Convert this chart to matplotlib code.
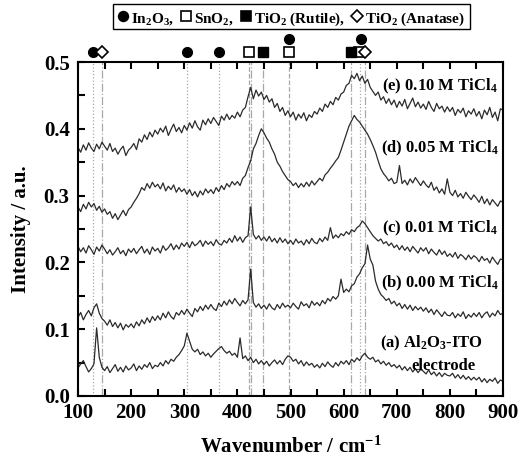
import numpy as np
import matplotlib
matplotlib.use("Agg")
import matplotlib.pyplot as plt
from matplotlib.ticker import MultipleLocator, FormatStrFormatter
from matplotlib.lines import Line2D
from matplotlib.patches import Rectangle

plt.rcParams['font.family'] = ['Liberation Serif', 'DejaVu Serif']
plt.rcParams['font.weight'] = 'bold'
plt.rcParams['mathtext.fontset'] = 'custom'
plt.rcParams['mathtext.rm'] = 'Liberation Serif:bold'
plt.rcParams['mathtext.bf'] = 'Liberation Serif:bold'
plt.rcParams['mathtext.it'] = 'Liberation Serif:italic:bold'
plt.rcParams['mathtext.default'] = 'bf'

# wavenumber grid (cm^-1), every 5 cm^-1
wavenumber = np.arange(100, 901, 5)

spec_e = [
    .372, .365, .376, .368, .379, .371, .366, .377, .370, .380,
    .374, .368, .378, .366, .371, .362, .369, .374, .360, .368,
    .372, .378, .369, .385, .380, .391, .384, .395, .388, .398,
    .392, .401, .395, .404, .390, .399, .407, .396, .402, .394,
    .405, .398, .409, .401, .412, .403, .398, .413, .406, .415,
    .408, .417, .411, .405, .419, .413, .422, .414, .420, .416,
    .425, .418, .428, .432, .448, .462, .445, .458, .449, .455,
    .444, .450, .440, .445, .432, .438, .426, .432, .420, .427,
    .418, .425, .413, .422, .416, .424, .412, .421, .417, .426,
    .422, .431, .426, .437, .432, .441, .436, .447, .443, .452,
    .455, .465, .468, .480, .475, .483, .472, .479, .468, .474,
    .462, .456, .450, .455, .443, .448, .438, .445, .436, .443,
    .432, .441, .434, .444, .430, .438, .446, .433, .440, .431,
    .437, .429, .441, .432, .426, .438, .430, .434, .425, .433,
    .426, .432, .420, .429, .424, .431, .418, .427, .422, .430,
    .419, .426, .415, .428, .421, .432, .417, .425, .412, .430,
    .428]

spec_d = [
    .283, .276, .287, .280, .290, .283, .288, .278, .284, .275,
    .280, .272, .276, .266, .273, .264, .271, .278, .270, .279,
    .283, .290, .296, .303, .312, .308, .318, .311, .320, .313,
    .317, .310, .319, .307, .314, .309, .316, .305, .312, .306,
    .310, .302, .309, .300, .306, .298, .307, .301, .310, .304,
    .309, .303, .312, .306, .315, .309, .318, .313, .321, .316,
    .321, .315, .326, .330, .342, .352, .370, .378, .390, .400,
    .394, .386, .380, .370, .362, .350, .344, .336, .330, .324,
    .321, .315, .319, .312, .318, .313, .320, .314, .322, .316,
    .321, .326, .322, .331, .335, .341, .346, .352, .357, .368,
    .380, .392, .404, .412, .420, .414, .410, .404, .398, .392,
    .384, .375, .365, .352, .340, .333, .328, .322, .326, .318,
    .320, .345, .318, .323, .316, .325, .319, .327, .321, .315,
    .322, .316, .312, .320, .308, .313, .304, .310, .302, .325,
    .305, .300, .308, .298, .303, .296, .305, .299, .294, .301,
    .296, .290, .299, .288, .295, .286, .294, .289, .284, .292,
    .290]

spec_c = [
    .224, .216, .222, .214, .225, .219, .212, .223, .217, .226,
    .220, .213, .219, .211, .216, .222, .213, .218, .210, .220,
    .215, .221, .213, .219, .224, .214, .220, .212, .223, .217,
    .221, .214, .225, .218, .222, .228, .219, .226, .220, .229,
    .224, .230, .222, .231, .225, .228, .233, .224, .232, .227,
    .231, .225, .234, .228, .226, .233, .229, .236, .230, .240,
    .232, .238, .230, .237, .240, .283, .242, .235, .240, .233,
    .238, .232, .239, .231, .236, .229, .237, .230, .235, .228,
    .233, .227, .235, .229, .232, .226, .234, .228, .236, .230,
    .228, .236, .231, .238, .233, .252, .236, .241, .237, .243,
    .240, .246, .242, .249, .246, .252, .255, .262, .258, .252,
    .246, .240, .236, .232, .235, .228, .231, .225, .229, .222,
    .226, .219, .225, .218, .223, .216, .224, .219, .214, .222,
    .217, .222, .213, .220, .215, .211, .219, .212, .217, .209,
    .213, .208, .215, .206, .212, .209, .204, .211, .205, .210,
    .207, .201, .209, .203, .206, .199, .208, .202, .197, .205,
    .204]

spec_b = [
    .118, .125, .114, .122, .128, .120, .132, .138, .124, .116,
    .112, .106, .114, .104, .110, .102, .109, .099, .107, .103,
    .108, .102, .111, .105, .114, .108, .117, .110, .119, .113,
    .120, .114, .124, .117, .126, .119, .115, .125, .121, .128,
    .122, .130, .124, .119, .131, .126, .134, .128, .136, .130,
    .137, .131, .128, .139, .134, .142, .136, .144, .138, .146,
    .140, .135, .143, .138, .144, .190, .140, .133, .138, .131,
    .136, .130, .138, .132, .129, .137, .131, .139, .133, .136,
    .132, .139, .134, .130, .141, .135, .138, .132, .142, .136,
    .140, .135, .143, .138, .146, .142, .149, .145, .150, .175,
    .155, .160, .156, .165, .168, .178, .183, .192, .198, .226,
    .205, .196, .172, .160, .152, .148, .143, .146, .138, .142,
    .135, .139, .131, .137, .130, .136, .128, .134, .129, .133,
    .127, .132, .125, .130, .122, .129, .124, .119, .126, .121,
    .120, .125, .117, .123, .119, .126, .116, .122, .118, .124,
    .119, .125, .117, .123, .126, .118, .124, .120, .128, .122,
    .124]

spec_a = [
    .042, .048, .053, .044, .036, .041, .048, .102, .058, .043,
    .038, .044, .035, .041, .047, .037, .043, .036, .045, .039,
    .042, .048, .038, .045, .040, .047, .043, .050, .041, .046,
    .044, .050, .045, .053, .048, .055, .052, .058, .062, .068,
    .075, .094, .082, .070, .066, .070, .062, .066, .060, .064,
    .058, .063, .067, .071, .074, .068, .064, .067, .061, .064,
    .058, .087, .056, .060, .053, .058, .050, .055, .048, .053,
    .047, .052, .045, .050, .054, .048, .053, .047, .055, .060,
    .058, .052, .055, .048, .053, .045, .051, .046, .049, .043,
    .047, .042, .049, .044, .051, .046, .043, .050, .045, .052,
    .048, .053, .047, .055, .051, .057, .053, .060, .064, .058,
    .055, .058, .051, .054, .048, .052, .046, .050, .044, .047,
    .042, .046, .039, .044, .038, .043, .036, .041, .035, .040,
    .037, .033, .039, .032, .036, .030, .035, .029, .034, .031,
    .030, .034, .027, .032, .026, .031, .025, .029, .024, .028,
    .024, .028, .021, .026, .020, .025, .022, .027, .019, .024,
    .022]

series = [spec_a, spec_b, spec_c, spec_d, spec_e]

# reference lines (position, style)
ref_lines = [(129, ':'), (145, '-.'), (305, ':'), (366, ':'), (421, '--'),
             (426, '-.'), (448, '-.'), (497, '--'), (613, '-.'), (630, ':'),
             (641, '-.')]

# top phase markers: (position, row)
markers_in2o3 = [(129, 1), (305, 1), (366, 1), (497, 2), (632, 2)]
markers_sno2 = [(421, 1), (497, 1), (628, 1)]
markers_rutile = [(448, 1), (614, 1)]
markers_anatase = [(146, 1), (641, 1)]

labels = ['(a) Al$_2$O$_3$-ITO', '(b) 0.00 M TiCl$_4$', '(c) 0.01 M TiCl$_4$',
          '(d) 0.05 M TiCl$_4$', '(e) 0.10 M TiCl$_4$']
label_y = [0.079, 0.169, 0.251, 0.371, 0.464]

legend_items = [('o', 'black'), 'In$_2$O$_3$,', ('s', 'white'), 'SnO$_2$,',
                ('s', 'black'), 'TiO$_2$ (Rutile),', ('D', 'white'), 'TiO$_2$ (Anatase)']

W, H = 524, 461
fig = plt.figure(figsize=(W / 100, H / 100), dpi=100)
ax = fig.add_axes([0.1489, 0.141, 0.8111, 0.7245])

for xv, ls in ref_lines:
    ax.axvline(xv, color='#a8a8a8', lw=0.9, ls=ls, zorder=1)

for s in series:
    ax.plot(wavenumber, s, color='#2b2b2b', lw=0.9, zorder=2)

row_y = {1: 0.515, 2: 0.535}
ms = 7
for xv, r in markers_in2o3:
    ax.plot([xv], [row_y[r]], 'o', ms=ms, mfc='black', mec='black', clip_on=False, zorder=5)
for xv, r in markers_sno2:
    ax.plot([xv], [row_y[r]], 's', ms=ms, mfc='white', mec='black', mew=1.2, clip_on=False, zorder=4)
for xv, r in markers_rutile:
    ax.plot([xv], [row_y[r]], 's', ms=ms, mfc='black', mec='black', clip_on=False, zorder=4)
for xv, r in markers_anatase:
    ax.plot([xv], [row_y[r]], 'D', ms=6, mfc='white', mec='black', mew=1.2, clip_on=False, zorder=6)

lfs = 12
for i, (lab, yv) in enumerate(zip(labels, label_y)):
    if i == 0:
        ax.text(863, yv, lab, ha='right', va='center', fontsize=lfs, fontweight='bold')
        ax.text(788, 0.045, 'electrode', ha='center', va='center', fontsize=lfs, fontweight='bold')
    else:
        ax.text(891, yv, lab, ha='right', va='center', fontsize=lfs, fontweight='bold')

ax.set_xlim(100, 900)
ax.set_ylim(0.0, 0.5)
ax.xaxis.set_major_locator(MultipleLocator(100))
ax.xaxis.set_minor_locator(MultipleLocator(50))
ax.yaxis.set_major_locator(MultipleLocator(0.1))
ax.yaxis.set_minor_locator(MultipleLocator(0.05))
ax.yaxis.set_major_formatter(FormatStrFormatter('%.1f'))
ax.tick_params(which='both', direction='in', top=True, right=False, length=5, width=1.5)
ax.tick_params(axis='x', labelsize=15, pad=5)
ax.tick_params(axis='y', labelsize=15, pad=6)
for lab in ax.get_xticklabels() + ax.get_yticklabels():
    lab.set_fontweight('bold')
for sp in ax.spines.values():
    sp.set_linewidth(1.5)

ax.set_xlabel('Wavenumber / cm$^{-1}$', fontsize=15, fontweight='bold', labelpad=10)
ax.set_ylabel('Intensity / a.u.', fontsize=15, fontweight='bold', labelpad=9)

# legend box at top, laid out piece by piece
renderer = fig.canvas.get_renderer()
gfs = 11
msz_px = 10
gap_after_marker = 3
gap_after_text = 7
widths = []
for it in legend_items:
    if isinstance(it, tuple):
        widths.append(msz_px)
    else:
        t = fig.text(0, 0, it, fontsize=gfs, fontweight='bold')
        widths.append(t.get_window_extent(renderer).width)
        t.remove()
gaps = [gap_after_marker if isinstance(it, tuple) else gap_after_text for it in legend_items[:-1]]
total = sum(widths) + sum(gaps)
cx, cy = 291.5, H - 16.5
x = cx - total / 2
for i, (it, w) in enumerate(zip(legend_items, widths)):
    if isinstance(it, tuple):
        mk, fc = it
        fig.add_artist(Line2D([(x + w / 2) / W], [cy / H], marker=mk, ms=7 if mk != 'D' else 6.5,
                              mfc=fc, mec='black', mew=1.2, ls='none', transform=fig.transFigure))
    else:
        fig.text(x / W, cy / H, it, fontsize=gfs, fontweight='bold', ha='left', va='center_baseline')
    if i < len(gaps):
        x += w + gaps[i]
pad = 5
fig.add_artist(Rectangle(((cx - total / 2 - pad) / W, (cy - 12.5) / H), (total + 2 * pad) / W, 25 / H,
                         transform=fig.transFigure, fill=False, ec='black', lw=1.0))

fig.savefig('out.png', dpi=100)
